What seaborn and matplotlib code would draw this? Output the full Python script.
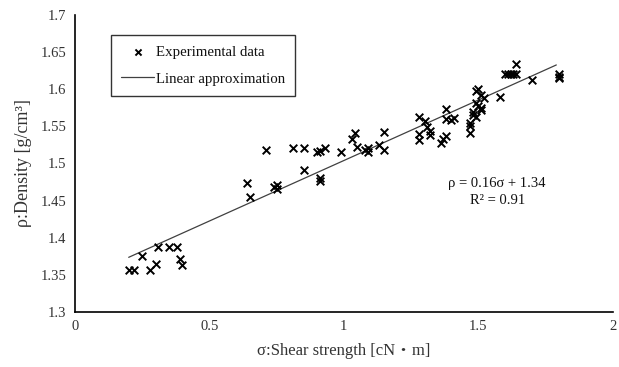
import matplotlib
matplotlib.use("Agg")
import matplotlib.pyplot as plt
import seaborn as sns
import numpy as np
import pandas as pd

sigma = [0.20, 0.22, 0.25, 0.28, 0.30, 0.31, 0.35, 0.38, 0.39, 0.40,
         0.64, 0.65, 0.71, 0.74, 0.75, 0.75, 0.81, 0.85, 0.85, 0.90,
         0.91, 0.93, 0.91, 0.91, 0.99, 1.03, 1.04, 1.05, 1.08, 1.09,
         1.09, 1.15, 1.13, 1.15, 1.28, 1.30, 1.28, 1.28, 1.31, 1.32,
         1.32, 1.36, 1.37, 1.38, 1.38, 1.38, 1.40, 1.41, 1.47, 1.47,
         1.47, 1.48, 1.48, 1.49, 1.49, 1.50, 1.51, 1.49, 1.50, 1.51,
         1.51, 1.52, 1.58, 1.60, 1.61, 1.62, 1.63, 1.64, 1.64, 1.70,
         1.80, 1.80, 1.80]
rho = [1.357, 1.357, 1.375, 1.356, 1.365, 1.388, 1.388, 1.388, 1.371, 1.363,
       1.474, 1.455, 1.518, 1.469, 1.466, 1.471, 1.521, 1.521, 1.491, 1.515,
       1.517, 1.521, 1.476, 1.480, 1.515, 1.533, 1.541, 1.522, 1.518, 1.521,
       1.516, 1.543, 1.525, 1.518, 1.563, 1.557, 1.540, 1.531, 1.549, 1.544,
       1.538, 1.528, 1.533, 1.537, 1.573, 1.560, 1.558, 1.561, 1.555, 1.550,
       1.541, 1.570, 1.566, 1.562, 1.597, 1.600, 1.592, 1.582, 1.578, 1.575,
       1.572, 1.588, 1.590, 1.621, 1.621, 1.621, 1.621, 1.620, 1.634, 1.612,
       1.620, 1.617, 1.615]

fit_slope = 0.163
fit_intercept = 1.341
fit_x = [0.2, 1.79]

x_ticks = [0, 0.5, 1, 1.5, 2]
x_tick_labels = ["0", "0.5", "1", "1.5", "2"]
y_ticks = [1.3, 1.35, 1.4, 1.45, 1.5, 1.55, 1.6, 1.65, 1.7]
y_tick_labels = ["1.3", "1.35", "1.4", "1.45", "1.5", "1.55", "1.6", "1.65", "1.7"]

sns.set_theme(style="white")
plt.rcParams["font.family"] = ["Liberation Serif", "DejaVu Serif"]
plt.rcParams["mathtext.fontset"] = "stix"

text_color = "#333333"

fig = plt.figure(figsize=(6.19, 3.67), dpi=100)
ax = fig.add_axes([0.121, 0.150, 0.869, 0.809])

df = pd.DataFrame({"sigma": sigma, "rho": rho})
sns.scatterplot(data=df, x="sigma", y="rho", ax=ax, marker="x", color="black",
                s=30, linewidth=1.4, label="Experimental data", zorder=3)

fx = np.array(fit_x)
fy = fit_slope * fx + fit_intercept
sns.lineplot(x=fx, y=fy, ax=ax, color="#404040", linewidth=0.9,
             label="Linear approximation", zorder=2)

ax.set_xlim(0, 2)
ax.set_ylim(1.3, 1.7)
ax.set_xticks(x_ticks)
ax.set_xticklabels(x_tick_labels)
ax.set_yticks(y_ticks)
ax.set_yticklabels(y_tick_labels)
ax.tick_params(axis="both", direction="in", length=4, width=1, colors="black",
               labelcolor=text_color, labelsize=10.5, pad=6)
for s in ["top", "right"]:
    ax.spines[s].set_visible(False)
for s in ["left", "bottom"]:
    ax.spines[s].set_color("black")
    ax.spines[s].set_linewidth(1.2)

ax.set_xlabel("σ:Shear strength [cN・m]", fontsize=12, color=text_color, labelpad=7,
              fontfamily=["Liberation Serif", "Noto Sans CJK JP"])
ax.set_ylabel("ρ:Density [g/cm³]", fontsize=13, color=text_color, labelpad=6)

ax.text(0.785, 0.432, "ρ = 0.16σ + 1.34", transform=ax.transAxes, ha="center",
        va="center", fontsize=10.5, color="#111111")
ax.text(0.785, 0.377, "R² = 0.91", transform=ax.transAxes, ha="center",
        va="center", fontsize=10.5, color="#111111")

leg = ax.legend(loc="upper left", bbox_to_anchor=(0.067, 0.933), frameon=True,
                fancybox=False, edgecolor="black", fontsize=10.7,
                borderpad=0.7, labelspacing=0.9, handlelength=2.2,
                handletextpad=0.1, borderaxespad=0, markerscale=0.8)
leg.get_frame().set_linewidth(1.0)
for t in leg.get_texts():
    t.set_color("#111111")
ax.grid(False)

fig.savefig("out.png", dpi=100)
